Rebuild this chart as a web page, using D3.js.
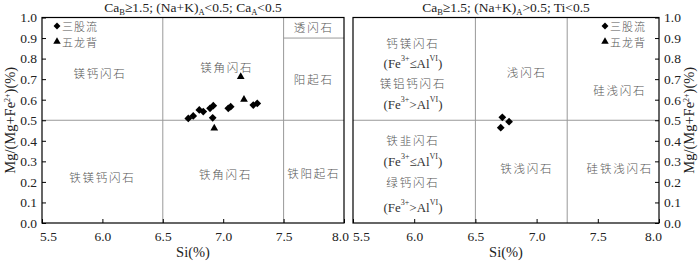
<!DOCTYPE html>
<html>
<head>
<meta charset="utf-8">
<script src="https://cdn.jsdelivr.net/npm/d3@7/dist/d3.min.js"></script>
<style>
  body { margin: 0; background: #fff; }
  svg { display: block; }
  .tick text { font-family: "Liberation Serif", "Times New Roman", serif; font-size: 13.5px; fill: #222; }
  .domain { display: none; }
  .tick line { stroke: #000; }
  .zone { font-family: "Noto Sans CJK SC", sans-serif; font-weight: 300; font-size: 11.5px; fill: #555; letter-spacing: 1.8px; }
  .formula { font-family: "Liberation Serif", "Times New Roman", serif; font-size: 13px; fill: #333; }
  .legend { font-family: "Noto Sans CJK SC", sans-serif; font-weight: 300; font-size: 11px; fill: #555; letter-spacing: 1px; }
  .title { font-family: "Liberation Serif", "Times New Roman", serif; font-size: 13.5px; fill: #222; }
  .axtitle { font-family: "Liberation Serif", "Times New Roman", serif; font-size: 14.5px; fill: #222; }
</style>
</head>
<body>
<svg id="chart" width="700" height="261"></svg>
<script>
// --- data ---
const xTicks = [5.5, 6.0, 6.5, 7.0, 7.5, 8.0];
const yTicks = [0.0, 0.1, 0.2, 0.3, 0.4, 0.5, 0.6, 0.7, 0.8, 0.9, 1.0];

// left panel: Ca_A < 0.5
const leftSangu = [
  [6.711, 0.509], [6.752, 0.521], [6.802, 0.550], [6.835, 0.542],
  [6.891, 0.558], [6.918, 0.571], [6.913, 0.512], [7.042, 0.558],
  [7.062, 0.566], [7.249, 0.574], [7.282, 0.582]
];
const leftWulong = [[7.145, 0.712], [7.172, 0.601], [6.926, 0.461]];

// right panel: (Na+K)_A > 0.5
const rightSangu = [[6.72, 0.514], [6.775, 0.493], [6.707, 0.464]];
const rightWulong = [];

// field boundaries
const leftVLines  = [6.5, 7.5];
const rightVLines = [6.5, 7.25];

// field names: [si, mg, text]
const leftZones = [
  [5.98, 0.73, '镁钙闪石'],
  [7.03, 0.76, '镁角闪石'],
  [7.75, 0.955, '透闪石'],
  [7.75, 0.70, '阳起石'],
  [6.0, 0.225, '铁镁钙闪石'],
  [7.02, 0.24, '铁角闪石'],
  [7.75, 0.245, '铁阳起石']
];
const rightZones = [
  [5.99, 0.878, '钙镁闪石'],
  [5.99, 0.682, '镁铝钙闪石'],
  [6.92, 0.735, '浅闪石'],
  [7.68, 0.645, '硅浅闪石'],
  [5.99, 0.405, '铁韭闪石'],
  [5.99, 0.20, '绿钙闪石'],
  [6.92, 0.27, '铁浅闪石'],
  [7.68, 0.27, '硅铁浅闪石']
];
// (Fe3+ vs AlVI) notes: [si, mg, relation]
const rightNotes = [
  [5.99, 0.78, '≤'], [5.99, 0.58, '>'],
  [5.99, 0.30, '≤'], [5.99, 0.08, '>']
];

const svg = d3.select('#chart');

function addSubText(sel, parts) {
  // parts: [text, 'sub'|'sup'|null]
  parts.forEach(([t, kind]) => {
    const ts = sel.append('tspan').text(t);
    if (kind === 'sub') ts.attr('font-size', '8.5px').attr('baseline-shift', '-3');
    if (kind === 'sup') ts.attr('font-size', '8px').attr('baseline-shift', '5');
  });
}

function diamond(g, pts, x, y) {
  g.selectAll(null).data(pts).enter().append('path')
    .attr('d', d3.symbol(d3.symbolSquare, 30))
    .attr('transform', d => `translate(${x(d[0])},${y(d[1])}) rotate(45)`)
    .attr('fill', '#000');
}
function triangle(g, pts, x, y) {
  g.selectAll(null).data(pts).enter().append('path')
    .attr('d', d3.symbol(d3.symbolTriangle, 26))
    .attr('transform', d => `translate(${x(d[0])},${y(d[1])})`)
    .attr('fill', '#000');
}

function panel(p) {
  const x = d3.scaleLinear().domain([5.5, 8.0]).range([p.left, p.right]);
  const y = d3.scaleLinear().domain([0, 1]).range([p.bottom, p.top]);
  const g = svg.append('g');

  // field boundaries
  g.selectAll(null).data(p.vlines).enter().append('line')
    .attr('x1', d => x(d)).attr('x2', d => x(d))
    .attr('y1', p.top).attr('y2', p.bottom)
    .attr('stroke', '#999').attr('stroke-width', 1);
  g.append('line')
    .attr('x1', p.left).attr('x2', p.right)
    .attr('y1', y(0.5)).attr('y2', y(0.5))
    .attr('stroke', '#999').attr('stroke-width', 1);
  if (p.extra) p.extra(g, x, y);

  // axes, ticks pointing inward
  const xa = g.append('g')
    .attr('transform', `translate(0,${p.bottom})`)
    .call(d3.axisBottom(x).tickValues(xTicks).tickFormat(d3.format('.1f'))
      .tickSizeInner(-4).tickSizeOuter(0).tickPadding(8));
  // end labels sit a little inside the frame, as in the print
  xa.selectAll('.tick text').attr('dx', (d, i) => i === 0 ? p.firstDx : (i === xTicks.length - 1 ? p.lastDx : 0));
  const yAxis = p.yRight ? d3.axisRight(y) : d3.axisLeft(y);
  g.append('g')
    .attr('transform', `translate(${p.yRight ? p.right : p.left},0)`)
    .call(yAxis.tickValues(yTicks).tickFormat(d3.format('.1f'))
      .tickSizeInner(-4).tickSizeOuter(0).tickPadding(5));

  // frame
  g.append('rect')
    .attr('x', p.left).attr('y', p.top)
    .attr('width', p.right - p.left).attr('height', p.bottom - p.top)
    .attr('fill', 'none').attr('stroke', '#000').attr('stroke-width', 1.2);

  // zone names
  g.selectAll(null).data(p.zones).enter().append('text')
    .attr('class', 'zone')
    .attr('x', d => x(d[0])).attr('y', d => y(d[1]))
    .attr('text-anchor', 'middle').attr('dominant-baseline', 'central')
    .text(d => d[2]);

  // points
  diamond(g, p.sangu, x, y);
  triangle(g, p.wulong, x, y);

  // legend
  const lg = g.append('g').attr('transform', `translate(${p.legendX},26)`);
  lg.append('path').attr('d', d3.symbol(d3.symbolSquare, 24))
    .attr('transform', 'rotate(45)').attr('fill', '#000');
  lg.append('text').attr('class', 'legend').attr('x', 5).attr('y', 0)
    .attr('dominant-baseline', 'central').text('三股流');
  lg.append('path').attr('d', d3.symbol(d3.symbolTriangle, 24))
    .attr('transform', 'translate(0,15.5)').attr('fill', '#000');
  lg.append('text').attr('class', 'legend').attr('x', 5).attr('y', 15.5)
    .attr('dominant-baseline', 'central').text('五龙背');

  // titles
  const cx = (p.left + p.right) / 2;
  addSubText(g.append('text').attr('class', 'title')
    .attr('x', cx).attr('y', 11.5).attr('text-anchor', 'middle'), p.title);
  g.append('text').attr('class', 'axtitle')
    .attr('x', cx).attr('y', 257).attr('text-anchor', 'middle').text('Si(%)');
  addSubText(g.append('text').attr('class', 'axtitle')
    .attr('transform', `translate(${p.yTitleX},${(p.top + p.bottom) / 2}) rotate(-90)`)
    .attr('text-anchor', 'middle'),
    [['Mg/(Mg+Fe', null], ['2+', 'sup'], [')(%)', null]]);
}

panel({
  left: 42, right: 344, top: 17.5, bottom: 223,
  vlines: leftVLines, zones: leftZones,
  sangu: leftSangu, wulong: leftWulong,
  legendX: 57, yRight: false, yTitleX: 15,
  firstDx: 6, lastDx: -4,
  title: [['Ca', null], ['B', 'sub'], ['≥1.5; (Na+K)', null], ['A', 'sub'],
          ['<0.5; Ca', null], ['A', 'sub'], ['<0.5', null]],
  extra: (g, x, y) => {
    g.append('line')
      .attr('x1', x(7.5)).attr('x2', x(8.0))
      .attr('y1', y(0.9)).attr('y2', y(0.9))
      .attr('stroke', '#999').attr('stroke-width', 1);
  }
});

panel({
  left: 353, right: 659, top: 17.5, bottom: 223,
  vlines: rightVLines, zones: rightZones,
  sangu: rightSangu, wulong: rightWulong,
  legendX: 605, yRight: true, yTitleX: 694,
  firstDx: 8, lastDx: -6,
  title: [['Ca', null], ['B', 'sub'], ['≥1.5; (Na+K)', null], ['A', 'sub'],
          ['>0.5; Ti<0.5', null]],
  extra: (g, x, y) => {
    g.selectAll(null).data(rightNotes).enter().append('text')
      .attr('class', 'formula')
      .attr('x', d => x(d[0])).attr('y', d => y(d[1]))
      .attr('text-anchor', 'middle').attr('dominant-baseline', 'central')
      .each(function (d) {
        addSubText(d3.select(this),
          [['(Fe', null], ['3+', 'sup'], [d[2] + 'Al', null], ['VI', 'sup'], [')', null]]);
      });
  }
});
</script>
</body>
</html>
